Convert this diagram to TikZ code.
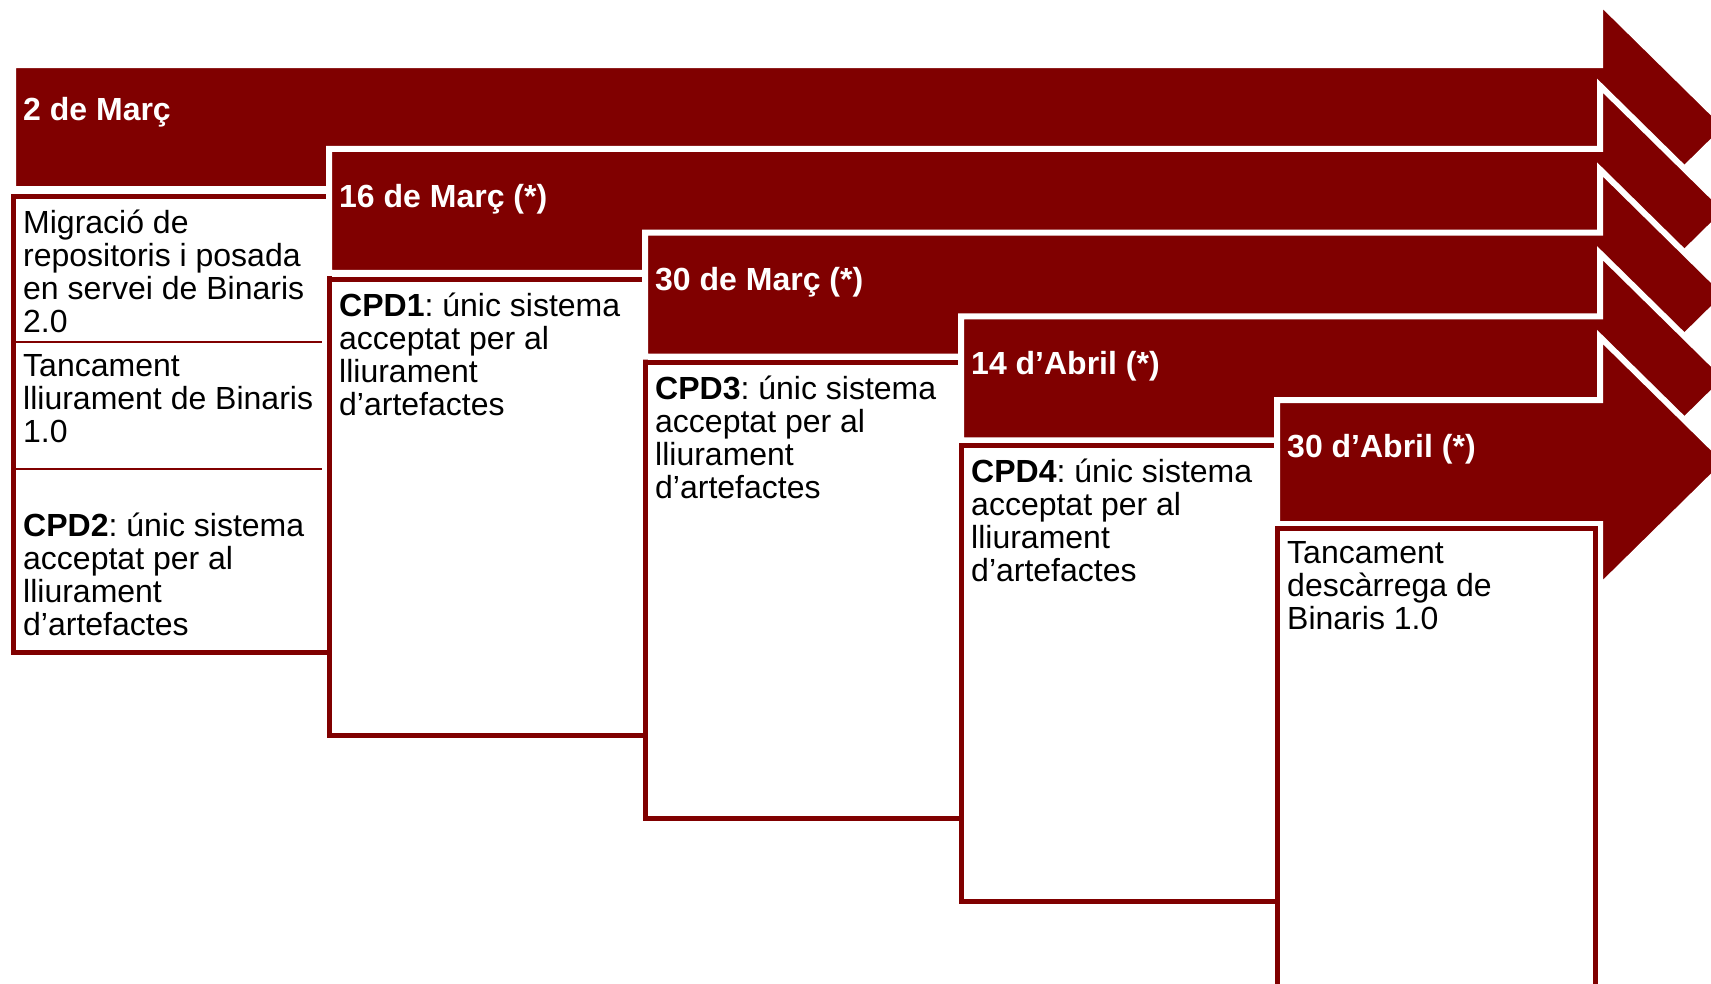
\documentclass[tikz,border=0pt]{standalone}
\usepackage{fontspec}
\setmainfont{Liberation Sans}
\frenchspacing
\definecolor{maroon}{RGB}{128,0,0}

\begin{document}
\begin{tikzpicture}[x=1pt,y=-1pt,
    datearrow/.style={fill=maroon,draw=white,line width=6pt,line join=miter},
    stagebox/.style={draw=maroon,fill=white,line width=5pt},
    divider/.style={draw=maroon,line width=1.7pt},
    datelabel/.style={anchor=base west,inner sep=0pt,text=white,font=\fontsize{32}{33}\selectfont\bfseries},
    stagetext/.style={anchor=north west,inner sep=0pt,align=left,font=\fontsize{32}{33}\selectfont,
      execute at begin node={\rule{0pt}{28pt}}}]
  \useasboundingbox (0,0) rectangle (1711,983);
  \clip (0,0) rectangle (1711,983);

  % 2 de Marc
  \filldraw[datearrow] (13,65) -- (1600,65) -- (1600,2) -- (1727,127) -- (1600,252) -- (1600,189) -- (13,189) -- cycle;
  \node[datelabel] (d1) at (23,120.5) {2 de Març};
  \draw[stagebox] (13.5,196.5) rectangle (329.5,652.5);
  \draw[divider] (16,341.7) -- (322,341.7);
  \draw[divider] (16,469) -- (322,469);
  \node[stagetext] (t1a) at (23,209.5) {Migració de\\repositoris i posada\\en servei de Binaris\\2.0};
  \node[stagetext] (t1b) at (23,354) {Tancament\\lliurament de Binaris\\1.0};
  \node[stagetext] (t1c) at (23,512.5) {\textbf{CPD2}: únic sistema\\acceptat per al\\lliurament\\d’artefactes};

  % 16 de Marc
  \filldraw[datearrow] (329,148.75) -- (1600,148.75) -- (1600,85.75) -- (1727,210.75) -- (1600,335.75) -- (1600,272.75) -- (329,272.75) -- cycle;
  \node[datelabel] (d2) at (339,207) {16 de Març (*)};
  \draw[stagebox] (329.5,279.5) rectangle (645.5,735.5);
  \node[stagetext] (t2) at (339,292.5) {\textbf{CPD1}: únic sistema\\acceptat per al\\lliurament\\d’artefactes};

  % 30 de Marc
  \filldraw[datearrow] (645,232.5) -- (1600,232.5) -- (1600,169.5) -- (1727,294.5) -- (1600,419.5) -- (1600,356.5) -- (645,356.5) -- cycle;
  \node[datelabel] (d3) at (655,290.5) {30 de Març (*)};
  \draw[stagebox] (645.5,362.5) rectangle (961.5,818.5);
  \node[stagetext] (t3) at (655,375.5) {\textbf{CPD3}: únic sistema\\acceptat per al\\lliurament\\d’artefactes};

  % 14 d'Abril
  \filldraw[datearrow] (961,316.25) -- (1600,316.25) -- (1600,253.25) -- (1727,378.25) -- (1600,503.25) -- (1600,440.25) -- (961,440.25) -- cycle;
  \node[datelabel] (d4) at (971,374) {14 d’Abril (*)};
  \draw[stagebox] (961.5,445.5) rectangle (1277.5,901.5);
  \node[stagetext] (t4) at (971,458.5) {\textbf{CPD4}: únic sistema\\acceptat per al\\lliurament\\d’artefactes};

  % 30 d'Abril
  \filldraw[datearrow] (1277,400) -- (1600,400) -- (1600,337) -- (1727,462) -- (1600,587) -- (1600,524) -- (1277,524) -- cycle;
  \node[datelabel] (d5) at (1287,457.5) {30 d’Abril (*)};
  \draw[stagebox] (1277.5,528.5) rectangle (1595.5,995);
  \node[stagetext] (t5) at (1287,541.5) {Tancament\\descàrrega de\\Binaris 1.0};
\end{tikzpicture}
\end{document}
